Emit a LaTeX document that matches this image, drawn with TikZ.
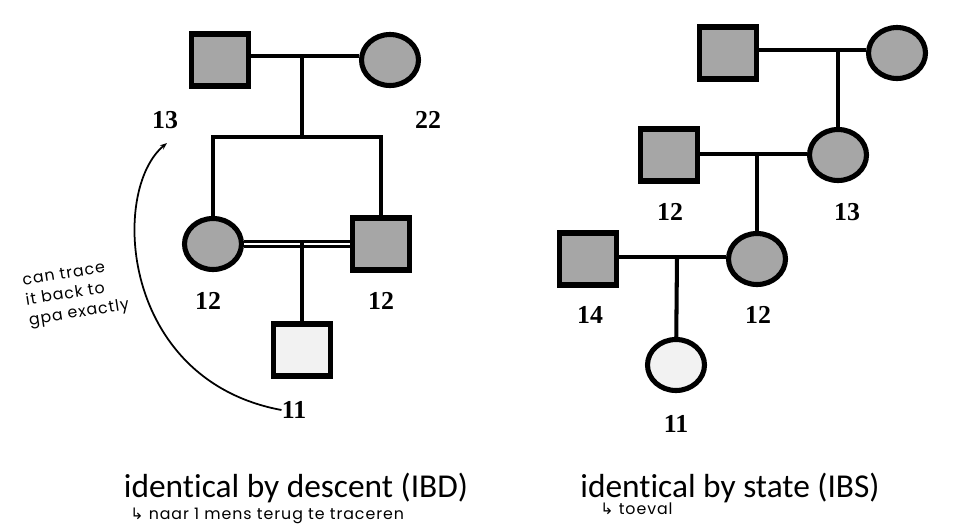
\documentclass[tikz,border=0pt]{standalone}
\usepackage{fontspec}
\setmainfont{Carlito}[Ligatures=NoCommon]
\newfontfamily\numfont{Liberation Serif}
\newfontfamily\handfont{Poppins}[LetterSpace=6]
\newfontfamily\arrowfont{DejaVu Sans}
\usetikzlibrary{shapes.geometric,arrows.meta}
\definecolor{affected}{HTML}{A6A6A6}
\definecolor{unaffected}{HTML}{F2F2F2}

\begin{document}
\begin{tikzpicture}[x=0.02cm,y=-0.02cm,
  male/.style={draw,line width=2.9pt,rectangle,minimum width=1.14cm,minimum height=1.04cm,inner sep=0pt},
  female/.style={draw,line width=2.9pt,ellipse,minimum width=1.14cm,minimum height=1.02cm,inner sep=0pt},
  link/.style={line width=2.3pt},
  num/.style={font=\numfont\bfseries\fontsize{14.7}{16}\selectfont,inner sep=0pt},
  title/.style={font=\fontsize{19}{22}\selectfont,anchor=base,inner sep=0pt},
  note/.style={font=\handfont\fontsize{9}{11.5}\selectfont,inner sep=0pt}]
\useasboundingbox (0,0) rectangle (960,525);
\node[male,fill=affected] (gpa) at (220,60) {};
\node[female,fill=affected] (gma) at (390,60) {};
\node[female,fill=affected] (mom) at (213,244) {};
\node[male,fill=affected] (dad) at (381,244) {};
\node[male,fill=unaffected] (kid) at (302,350) {};
\coordinate (m1) at (302,56);
\coordinate (s1) at (302,137);
\coordinate (m2) at (302,242);
\draw[link] (gpa.east |- m1) -- (gma.west |- m1);
\draw[link] (m1) -- (s1);
\draw[link] (mom.north) |- (s1) -| (dad.north);
\draw[line width=1.7pt,double,double distance=1.1pt] (mom) -- (dad);
\draw[link] (m2) -- (kid);
\node[num] (l13) at (165,120) {13};
\node[num] (l22) at (428,120) {22};
\node[num] (lmom) at (208,301) {12};
\node[num] (ldad) at (381,301) {12};
\node[num] (lkid) at (294,410) {11};
\coordinate (tip) at (167,143);
\draw[line width=1pt,-{Stealth[length=4pt,width=3pt]}] (lkid.west) .. controls (120,380) and (110,190) .. (tip);
\node[note,rotate=9,align=left] (gpanote) at (76,294) {can trace\\it back to\\gpa exactly};
\node[male,fill=affected] (top1) at (728,53) {};
\node[female,fill=affected] (top2) at (897,53) {};
\node[male,fill=affected] (mid1) at (669,155) {};
\node[female,fill=affected] (mid2) at (838,155) {};
\node[male,fill=affected] (low1) at (588,259) {};
\node[female,fill=affected] (low2) at (757,259) {};
\node[female,fill=unaffected] (child) at (676,365) {};
\coordinate (m3) at (838,50);
\coordinate (m4) at (757,154);
\coordinate (m5) at (677,257);
\draw[link] (top1.east |- m3) -- (top2.west |- m3);
\draw[link] (m3) -- (mid2);
\draw[link] (mid1.east |- m4) -- (mid2.west |- m4);
\draw[link] (m4) -- (low2);
\draw[link] (low1.east |- m5) -- (low2.west |- m5);
\draw[link] (m5) -- (child);
\node[num] (lmid1) at (670,212) {12};
\node[num] (lmid2) at (847,212) {13};
\node[num] (llow1) at (590,315) {14};
\node[num] (llow2) at (758,315) {12};
\node[num] (lchild) at (676,424) {11};
\node[title] (ibd) at (296,497) {identical by descent (IBD)};
\node[title] (ibs) at (730,497) {identical by state (IBS)};
\node[note,anchor=west] (ibdnote) at (130,516) {{\arrowfont ↳} naar 1 mens terug te traceren};
\node[note,anchor=west] (ibsnote) at (600,509) {{\arrowfont ↳} toeval};
\end{tikzpicture}
\end{document}
